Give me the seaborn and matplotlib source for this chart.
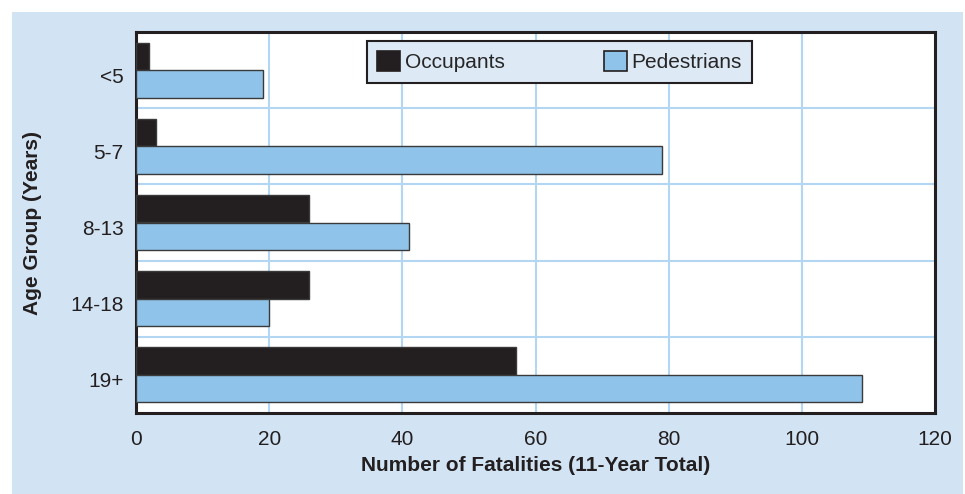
import numpy as np
import pandas as pd
import matplotlib.pyplot as plt
import matplotlib.patches as mpatches
import matplotlib.transforms as mtransforms
import seaborn as sns

age_groups = ['<5', '5-7', '8-13', '14-18', '19+']
occupants = [2, 3, 26, 26, 57]
pedestrians = [19, 79, 41, 20, 109]
series_names = ['Occupants', 'Pedestrians']
x_ticks = [0, 20, 40, 60, 80, 100, 120]

df = pd.DataFrame({
    'Age Group': age_groups * 2,
    'Fatalities': occupants + pedestrians,
    'Type': [series_names[0]] * len(age_groups) + [series_names[1]] * len(age_groups),
})

sns.set_style('white')
plt.rcParams['font.family'] = ['Liberation Sans', 'DejaVu Sans']

panel_color = '#d2e4f4'
bar_colors = {'Occupants': '#231f20', 'Pedestrians': '#8fc3e9'}
grid_color = '#b3d6f2'
text_color = '#231f20'

fig = plt.figure(figsize=(9.65, 4.94), dpi=100)
fig.patch.set_facecolor('white')
# light blue panel behind the chart
fig.patches.append(mpatches.Rectangle((12 / 965, 0), 951 / 965, 482 / 494,
                                      transform=fig.transFigure, facecolor=panel_color,
                                      edgecolor='none', zorder=-10))

ax = fig.add_axes([136 / 965, 81 / 494, 799 / 965, 381 / 494])
ax.set_facecolor('white')

sns.barplot(data=df, y='Age Group', x='Fatalities', hue='Type', order=age_groups,
            hue_order=series_names, palette=bar_colors, orient='h', width=0.72,
            edgecolor='#3a3a3a', linewidth=1.0, saturation=1, ax=ax, legend=False, zorder=3)

ax.set_xlim(0, 120)
ax.set_ylim(len(age_groups) - 0.5, -0.5)
ax.set_xticks(x_ticks)
ax.set_xticklabels([str(t) for t in x_ticks])

for x in x_ticks[1:-1]:
    ax.axvline(x, color=grid_color, linewidth=1.5, zorder=1)
for y in np.arange(0.5, len(age_groups) - 0.5, 1):
    ax.axhline(y, color=grid_color, linewidth=1.5, zorder=1)

for s in ax.spines.values():
    s.set_visible(True)
    s.set_color('#231f20')
    s.set_linewidth(2.2)

ax.tick_params(axis='both', length=0, labelsize=15, labelcolor=text_color)
ax.tick_params(axis='x', pad=12)
ax.tick_params(axis='y', pad=9)
# category labels sit a little below the bar-pair centre in the original
shift = mtransforms.ScaledTranslation(0, -5 / 100, fig.dpi_scale_trans)
for lbl in ax.get_yticklabels():
    lbl.set_transform(lbl.get_transform() + shift)

ax.set_xlabel('Number of Fatalities (11-Year Total)', fontsize=15, fontweight='bold',
              color=text_color, labelpad=5)
ax.set_ylabel('Age Group (Years)', fontsize=15, fontweight='bold', color=text_color,
              labelpad=20)

handles = [mpatches.Patch(facecolor=bar_colors[n], edgecolor='#231f20', linewidth=1.2, label=n)
           for n in series_names]
leg = ax.legend(handles=handles, ncol=2, loc='upper left',
                bbox_to_anchor=(231 / 799, 1 - 9 / 381), frameon=True, fancybox=False,
                fontsize=15, handlelength=1.1, handleheight=1.1, handletextpad=0.2,
                columnspacing=4.8, borderpad=0.5, borderaxespad=0)
leg.get_frame().set_facecolor('#dde9f5')
leg.get_frame().set_edgecolor('#231f20')
leg.get_frame().set_linewidth(1.5)
leg.get_frame().set_alpha(1)
leg.set_zorder(5)

fig.savefig('out.png', dpi=100)
